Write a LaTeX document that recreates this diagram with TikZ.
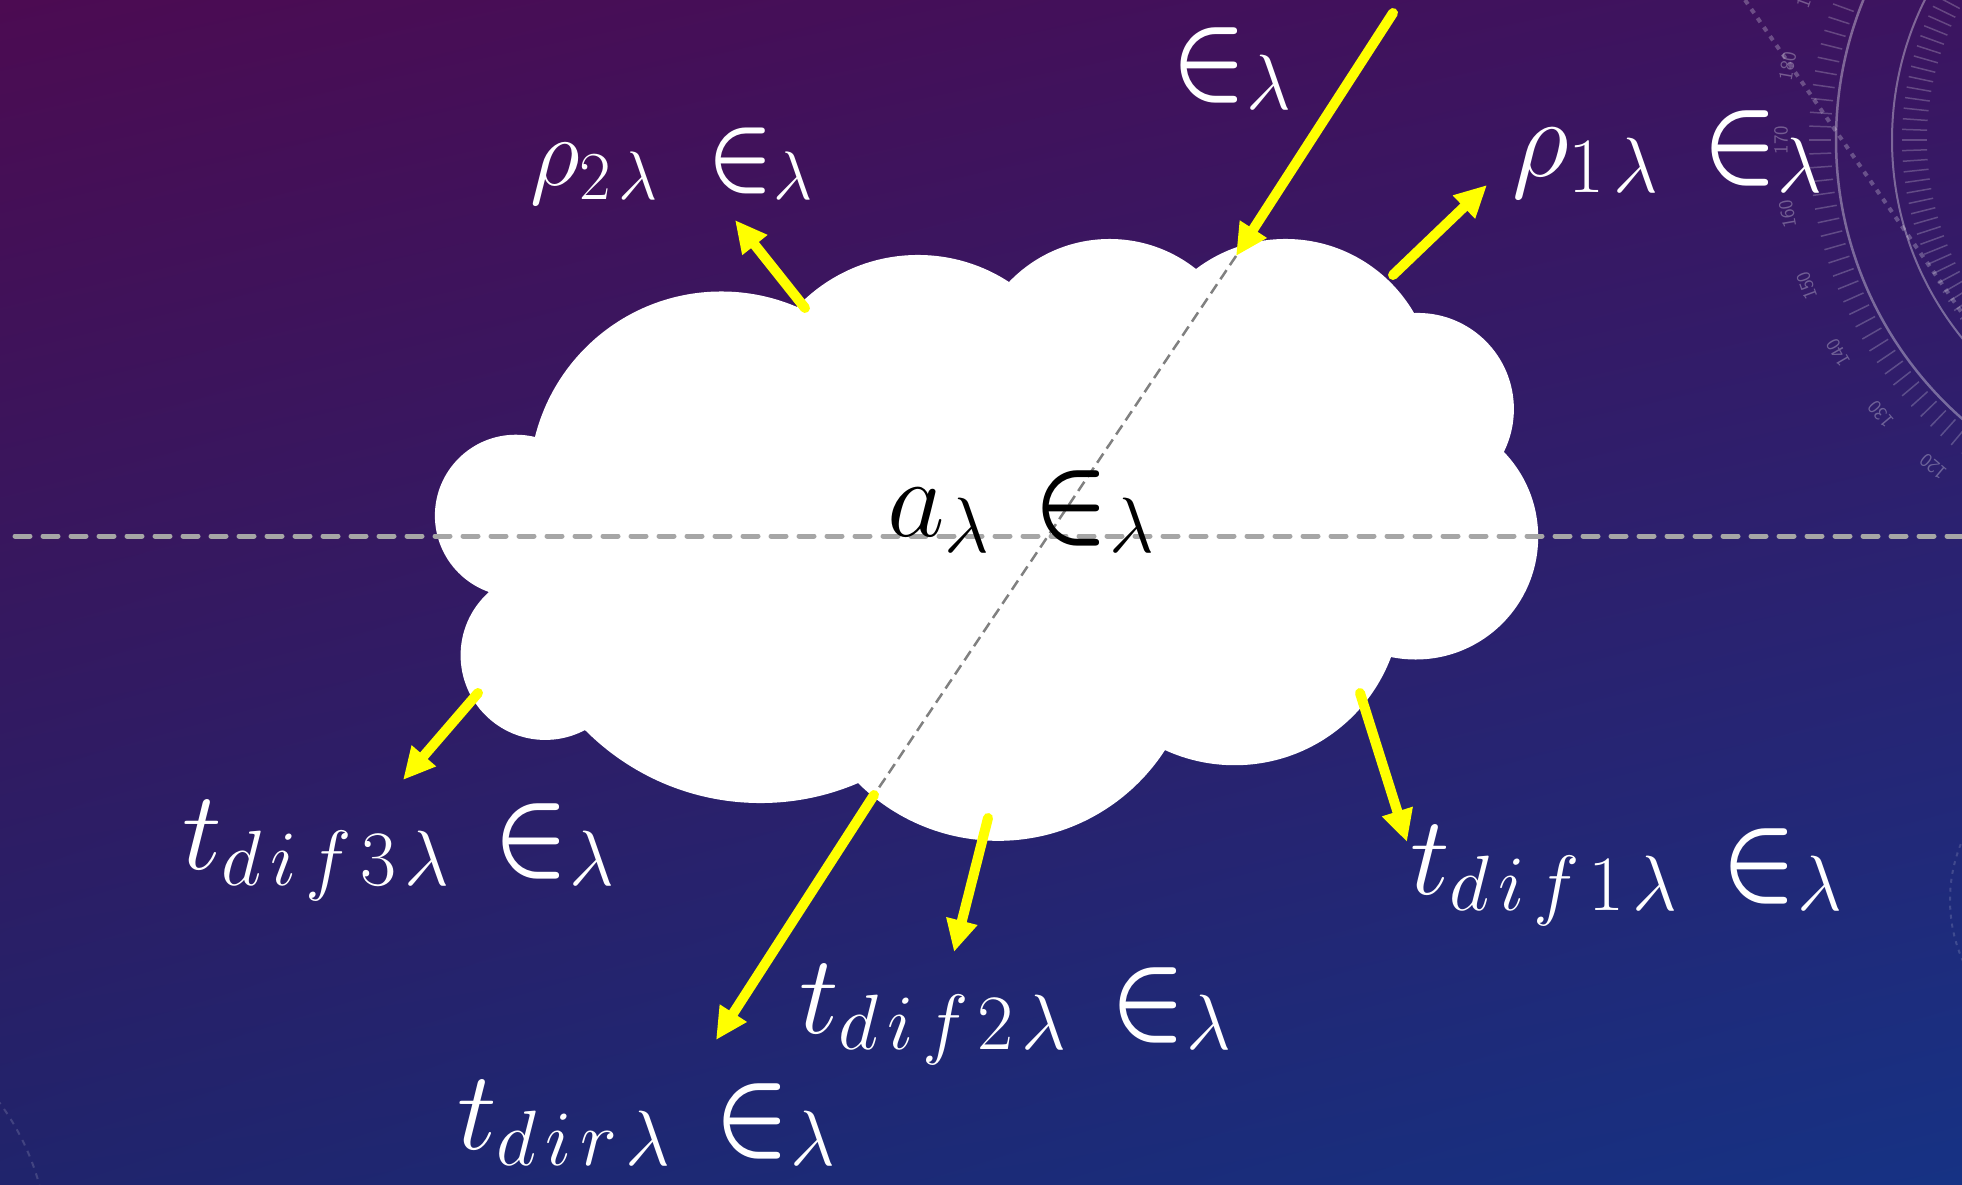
\documentclass[tikz,border=0pt]{standalone}
\usepackage{fix-cm}
\usepackage{graphicx}
\usetikzlibrary{arrows.meta,shadings}
\definecolor{bgul}{RGB}{76,11,82}
\definecolor{bgur}{RGB}{60,20,96}
\definecolor{bgll}{RGB}{32,36,108}
\definecolor{bglr}{RGB}{22,50,132}
\definecolor{rayyellow}{RGB}{255,255,0}
\definecolor{hdash}{RGB}{166,166,166}
\definecolor{ddash}{RGB}{128,128,128}
% circle through three points (px, y down), filled white
\newcommand\cloudbump[6]{%
  \pgfmathsetmacro\cax{#1/100}\pgfmathsetmacro\cay{#2/100}%
  \pgfmathsetmacro\cbx{#3/100}\pgfmathsetmacro\cby{#4/100}%
  \pgfmathsetmacro\ccx{#5/100}\pgfmathsetmacro\ccy{#6/100}%
  \pgfmathsetmacro\cd{2*(\cax*(\cby-\ccy)+\cbx*(\ccy-\cay)+\ccx*(\cay-\cby))}%
  \pgfmathsetmacro\csa{\cax*\cax+\cay*\cay}%
  \pgfmathsetmacro\csb{\cbx*\cbx+\cby*\cby}%
  \pgfmathsetmacro\csc{\ccx*\ccx+\ccy*\ccy}%
  \pgfmathsetmacro\cux{(\csa*(\cby-\ccy)+\csb*(\ccy-\cay)+\csc*(\cay-\cby))/\cd}%
  \pgfmathsetmacro\cuy{(\csa*(\ccx-\cbx)+\csb*(\cax-\ccx)+\csc*(\cbx-\cax))/\cd}%
  \pgfmathsetmacro\crr{100*sqrt((\cax-\cux)^2+(\cay-\cuy)^2)}%
  \fill[white] (100*\cux,100*\cuy) circle[radius=\crr pt];%
}
\newcommand\bigin{\mathord{\scalebox{0.88}[1.0]{\boldmath$\in$}}}
\tikzset{
  rayarrow/.style={draw=rayyellow, line width=10pt, line cap=round,
    -{Triangle[length=32pt,width=30pt]}},
  lab/.style={text=white, inner sep=0pt, anchor=base west,
    font=\fontsize{112}{134}\selectfont},
  tick/.style={white, opacity=.22, line width=1.5pt},
  ring/.style={white, opacity=.35},
}
\begin{document}
\begin{tikzpicture}[x=1pt,y=-1pt]
\useasboundingbox (0,0) rectangle (1962,1184);
% background
\shade[upper left=bgul, upper right=bgur, lower left=bgll, lower right=bglr]
  (0,0) rectangle (1962,1184);
% decoration
\begin{scope}
  \clip (0,0) rectangle (1962,1184);
  \begin{scope}[shift={(2207,140)}]
    \draw[ring, line width=2.5pt] (0,0) circle[radius=371pt];
    \draw[ring, line width=2pt] (0,0) circle[radius=315pt];
    \foreach \a in {150,152,...,246} \draw[tick] (\a:376pt) -- (\a:398pt);
    \foreach \a in {150,152,...,246} \draw[tick] (\a:280pt) -- (\a:305pt);
    \foreach \nn in {120,130,...,190} {
      \pgfmathsetmacro\ang{350-\nn}
      \node[white, opacity=.3, font=\sffamily\fontsize{20}{20}\selectfont,
        rotate=\ang-90] (num\nn) at (\ang:426pt) {\nn};
    }
  \end{scope}
  \coordinate (dotA) at (1745,0);
  \coordinate (dotB) at (1962,313);
  \draw[white, opacity=.25, line width=4pt, dash pattern=on 5pt off 6pt] (dotA) -- (dotB);
  \draw[white, opacity=.15, line width=2pt, dash pattern=on 4pt off 5pt]
    (2100,900) circle[radius=150pt];
  \draw[white, opacity=.15, line width=2pt, dash pattern=on 6pt off 6pt]
    (-200,1250) circle[radius=248pt];
\end{scope}
% cloud
\fill[white] (535,437) -- (797,307) -- (1009,282) -- (1196,269) -- (1414,313)
  -- (1504,452) -- (1391,657) -- (1165,750) -- (858,783) -- (585,730)
  -- (489,592) -- cycle;
\cloudbump{535}{437}{707}{292}{797}{307}
\cloudbump{797}{307}{914}{255}{1009}{282}
\cloudbump{1009}{282}{1107}{239}{1196}{269}
\cloudbump{1196}{269}{1289}{239}{1414}{313}
\cloudbump{1414}{313}{1514}{413}{1504}{452}
\cloudbump{1504}{452}{1538}{530}{1391}{657}
\cloudbump{1391}{657}{1243}{765}{1165}{750}
\cloudbump{1165}{750}{1025}{839}{858}{783}
\cloudbump{858}{783}{757}{803}{585}{730}
\cloudbump{585}{730}{461}{647}{489}{592}
\cloudbump{489}{592}{435}{520}{535}{437}
% coordinates
\coordinate (hL) at (15,536);
\coordinate (hR) at (1962,536);
\coordinate (inTail) at (1393,13);
\coordinate (inTip) at (1236,256);
\coordinate (rOneTail) at (1393,275);
\coordinate (rOneTip) at (1487,185);
\coordinate (rTwoTail) at (805,308);
\coordinate (rTwoTip) at (735,220);
\coordinate (dThreeTail) at (478,693);
\coordinate (dThreeTip) at (403,780);
\coordinate (dirTail) at (874,795);
\coordinate (dirTip) at (716,1040);
\coordinate (dTwoTail) at (988,818);
\coordinate (dTwoTip) at (954,952);
\coordinate (dOneTail) at (1360,693);
\coordinate (dOneTip) at (1407,842);
% dashed lines
\draw[hdash, line width=5pt, line cap=round, dash pattern=on 15pt off 13pt] (hL) -- (hR);
\draw[ddash, line width=2.5pt, dash pattern=on 11pt off 6pt] (inTip) -- (dirTail);
% arrows
\draw[rayarrow] (inTail) -- (inTip);
\draw[rayarrow] (rOneTail) -- (rOneTip);
\draw[rayarrow] (rTwoTail) -- (rTwoTip);
\draw[rayarrow] (dThreeTail) -- (dThreeTip);
\draw[rayarrow] (dirTail) -- (dirTip);
\draw[rayarrow] (dTwoTail) -- (dTwoTip);
\draw[rayarrow] (dOneTail) -- (dOneTip);
% labels
\node[lab] (lin) at (1171,93) {$\bigin_\lambda$};
\node[lab, font=\fontsize{98}{118}\selectfont] (lrtwo) at (530,185)
  {$\rho_{2\mkern2mu\lambda}\mkern9mu\bigin_\lambda$};
\node[lab] (lrone) at (1512,176) {$\rho_{1\mkern2mu\lambda}\mkern7mu\bigin_\lambda$};
\node[lab, text=black] (labs) at (887,536) {$a_\lambda\mkern7mu\bigin_\lambda$};
\node[lab] (ldthree) at (182,869)
  {$t_{d\mkern2mu i\mkern2mu f\mkern2mu 3\mkern2mu\lambda}\mkern7mu\bigin_\lambda$};
\node[lab] (ldone) at (1410,894)
  {$t_{d\mkern2mu i\mkern2mu f\mkern2mu 1\mkern2mu\lambda}\mkern7mu\bigin_\lambda$};
\node[lab] (ldtwo) at (799,1033)
  {$t_{d\mkern2mu i\mkern2mu f\mkern2mu 2\mkern2mu\lambda}\mkern7mu\bigin_\lambda$};
\node[lab] (ldir) at (457,1149)
  {$t_{d\mkern2mu i\mkern2mu r\mkern2mu\lambda}\mkern7mu\bigin_\lambda$};
\end{tikzpicture}
\end{document}
